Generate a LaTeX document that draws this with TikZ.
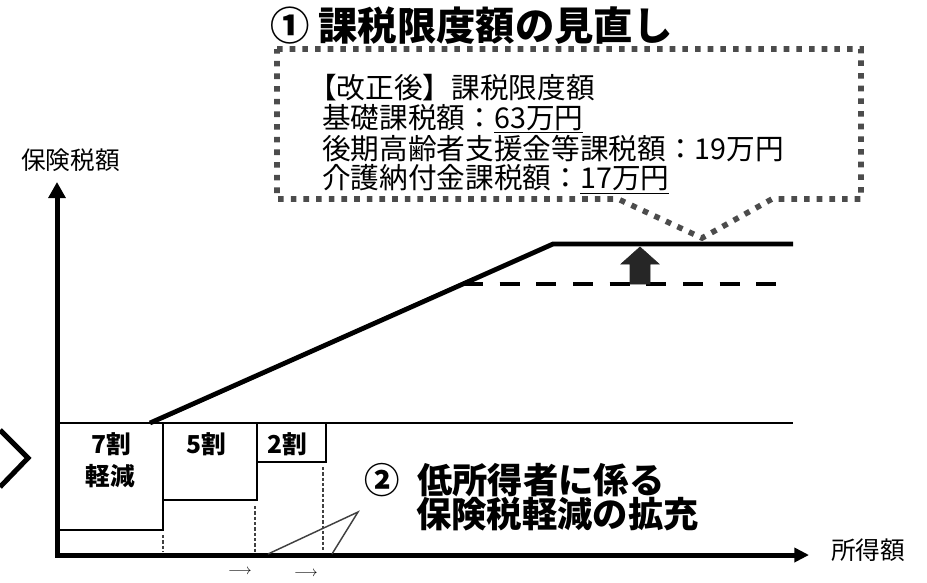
\documentclass[tikz,border=0pt]{standalone}
\usepackage{fontspec}
\setmainfont{Noto Sans CJK JP}
\usetikzlibrary{arrows.meta}
\begin{document}
\begin{tikzpicture}[x=0.75pt,y=-0.75pt,
  txt/.style={inner sep=0pt, anchor=west},
  callouttxt/.style={txt, font=\fontsize{21.5}{24}\selectfont},
  axislbl/.style={txt, font=\fontsize{18.5}{22}\selectfont},
  boxlbl/.style={inner sep=0pt, font=\bfseries\fontsize{18.5}{22}\selectfont},
  bigtxt/.style={txt, font=\bfseries\fontsize{26.5}{30}\selectfont},
  axisline/.style={line width=3.75pt},
  thickline/.style={line width=3.6pt},
  thinline/.style={line width=1.6pt},
  stepboxline/.style={line width=1.8pt},
  guide/.style={line width=1.3pt, black!75, dash pattern=on 2.5pt off 1.5pt},
  calloutline/.style={line width=4.2pt, black!70, dash pattern=on 4.2pt off 5.3pt},
]
\useasboundingbox (0,0) rectangle (927,582);

% title
\node[txt, font=\bfseries\fontsize{29.5}{32}\selectfont] (title) at (270,26) {① 課税限度額の見直し};

% callout
\draw[calloutline, line join=miter] (277,49) -- (861,49) -- (861,199) -- (772,199) -- (702,238) -- (618,199) -- (277,199) -- cycle;
\node[callouttxt] (c1) at (308,88) {【改正後】課税限度額};
\node[callouttxt] (c2) at (322,119) {基礎課税額：\underline{63万円}};
\node[callouttxt] (c3) at (322,149) {後期高齢者支援金等課税額：19万円};
\node[callouttxt] (c4) at (322,179) {介護納付金課税額：\underline{17万円}};

% axes
\coordinate (O) at (57,555);
\coordinate (ytip) at (57,182);
\coordinate (xtip) at (809,555);
\draw[axisline, {Triangle[length=12pt,width=12.5pt]}-{Triangle[length=11pt,width=10.5pt]}] (ytip) -- (O) -- (xtip);
\node[axislbl] (ylabel) at (21,160) {保険税額};
\node[axislbl] (xlabel) at (831,550) {所得額};

% left chevron
\draw[axisline, line join=miter] (0,430) -- (28,458) -- (0,487);

% base line
\coordinate (baseL) at (57,423);
\coordinate (baseR) at (793,423);
\draw[thinline] (baseL) -- (baseR);

% upper limit line
\coordinate (k0) at (150,423);
\coordinate (k1) at (553,244);
\coordinate (k2) at (793,244);
\draw[thickline, line join=miter] (k0) -- (k1) -- (k2);

% old limit (dashed)
\coordinate (d0) at (463,284);
\coordinate (d1) at (782,284);
\draw[thickline, dash pattern=on 15pt off 12.5pt] (d0) -- (d1);

% block arrow up
\draw[fill=black!85, draw=black!85, line width=0.5pt] (630,284) -- (650,284) -- (650,264) -- (659,264) -- (640,247) -- (621,264) -- (630,264) -- cycle;

% reduction boxes
\draw[stepboxline] (58,423) rectangle (163,530);
\draw[stepboxline] (163,423) rectangle (257,500);
\draw[stepboxline] (257,423) rectangle (326,462);
\node[boxlbl] (b7a) at (111,444) {7割};
\node[boxlbl] (b7b) at (110,476) {軽減};
\node[boxlbl] (b5) at (206,444) {5割};
\node[boxlbl] (b2) at (287,444) {2割};

% guides
\draw[guide] (163,535) -- (163,552);
\draw[guide] (255,506) -- (255,552);
\draw[guide] (323,467) -- (323,552);

% triangle strokes
\coordinate (t0) at (268,554);
\coordinate (t1) at (358,512);
\coordinate (t2) at (332,554);
\draw[line width=1.1pt, black!75] (t0) -- (t1) -- (t2);

% small arrows
\node[inner sep=0pt, font=\fontsize{11}{12}\selectfont] (ar1) at (240,572) {$\longrightarrow$};
\node[inner sep=0pt, font=\fontsize{11}{12}\selectfont] (ar2) at (306,574) {$\longrightarrow$};

% second heading
\node[bigtxt] (h2a) at (364,480) {②\hspace{0.5em}低所得者に係る};
\node[bigtxt] (h2b) at (416,514) {保険税軽減の拡充};
\end{tikzpicture}
\end{document}
